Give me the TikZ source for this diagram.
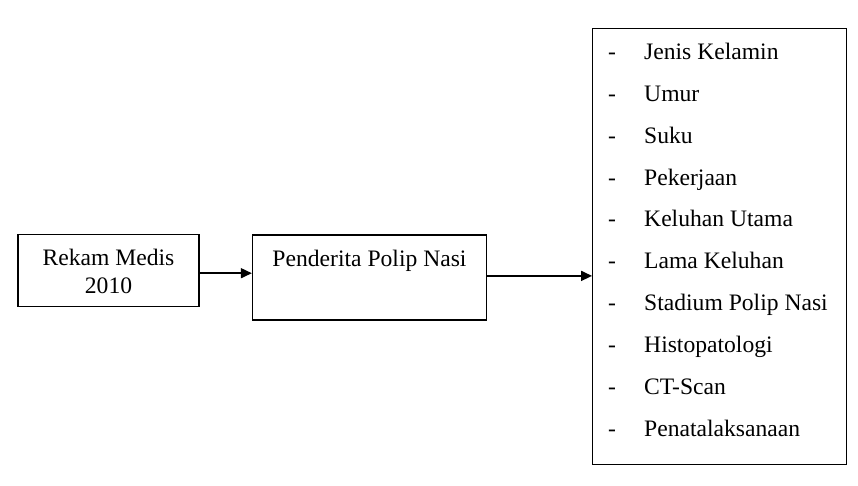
\documentclass[tikz,border=0pt]{standalone}
\usepackage{fontspec}
\setmainfont{Liberation Serif}
\usetikzlibrary{arrows.meta,calc}
\begin{document}
\begin{tikzpicture}[x=1pt,y=-1pt,
  box/.style={draw,line width=1.3pt,inner sep=0pt},
  txt/.style={font=\fontsize{23.6}{28}\selectfont,inner sep=0pt},
  arr/.style={line width=1.6pt,-{Triangle[length=11pt,width=10pt]}}]
\useasboundingbox (0,0) rectangle (858,486);
\node[box,minimum width=181,minimum height=72] (b1) at (108.5,270.7) {};
\node[txt,anchor=base] (t1a) at (108.5,265) {Rekam Medis};
\node[txt,anchor=base] (t1b) at (108.5,293) {2010};
\node[box,minimum width=234,minimum height=85] (b2) at (369.5,277.4) {};
\node[txt,anchor=base] (t2) at (369.5,266) {Penderita Polip Nasi};
\node[box,minimum width=254,minimum height=436] (b3) at (719.7,246.2) {};
\foreach \t [count=\i from 0] in {Jenis Kelamin,Umur,Suku,Pekerjaan,Keluhan Utama,Lama Keluhan,Stadium Polip Nasi,Histopatologi,CT-Scan,Penatalaksanaan}{
  \node[txt,anchor=base] (d\i) at (612,59.5+41.85*\i) {-};
  \node[txt,anchor=base west] (l\i) at (644,59.5+41.85*\i) {\t};
}
\draw[arr] ($(b1.east)+(0,2.5)$) -- ($(b1.east -| b2.west)+(0,2.5)$);
\draw[arr] ($(b2.east)+(0,-1.5)$) -- ($(b2.east -| b3.west)+(0,-1.5)$);
\end{tikzpicture}
\end{document}
